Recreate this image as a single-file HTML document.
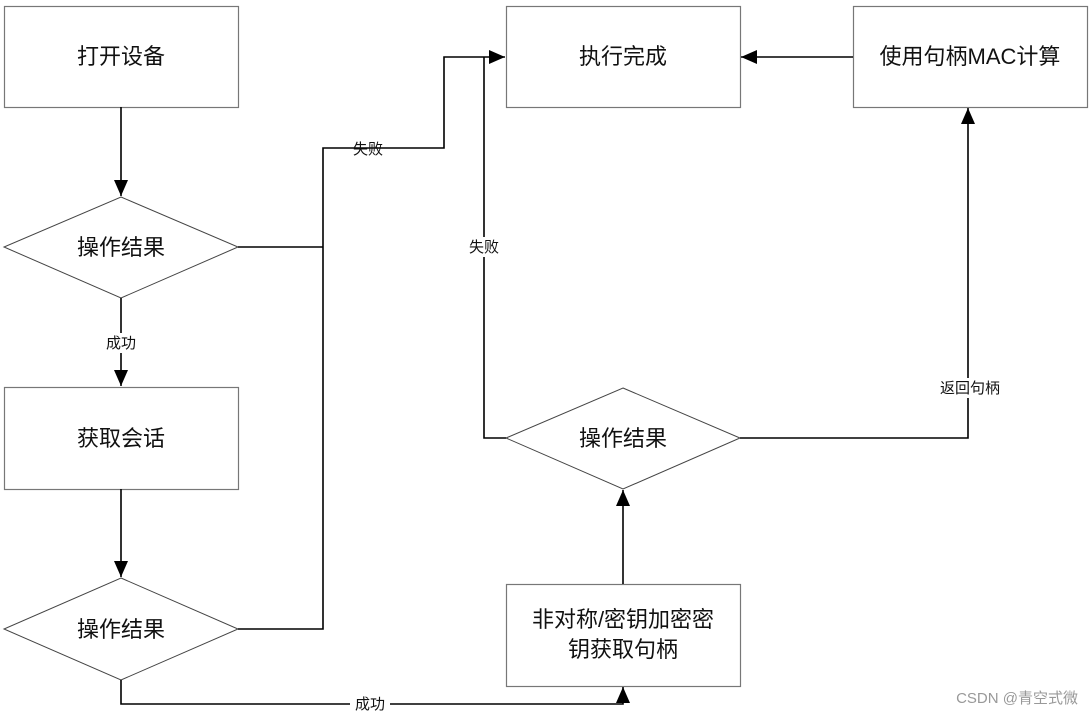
<!DOCTYPE html>
<html><head><meta charset="utf-8"><style>
body{margin:0;background:#fff;}
svg{display:block;font-family:"Liberation Sans","Noto Sans CJK SC",sans-serif;}
</style></head><body>
<svg width="1092" height="717" viewBox="0 0 1092 717">
<defs><marker id="a" markerWidth="16" markerHeight="14" refX="16" refY="7" orient="auto" markerUnits="userSpaceOnUse"><path d="M0,0L16,7L0,14z" fill="#000"/></marker></defs>
<g fill="#fff" stroke="#777" stroke-width="1.2">
<rect x="4.5" y="6.5" width="234" height="101"/>
<rect x="4.5" y="387.5" width="234" height="102"/>
<rect x="506.5" y="6.5" width="234" height="101"/>
<rect x="853.5" y="6.5" width="234" height="101"/>
<rect x="506.5" y="584.5" width="234" height="102"/>
</g>
<g fill="#fff" stroke="#444" stroke-width="1">
<polygon points="121,197 238,247 121,298 4,247"/>
<polygon points="121,578 238,629 121,680 4,629"/>
<polygon points="623,388 740,438 623,489 506,438"/>
</g>
<g fill="none" stroke="#000" stroke-width="1.6">
<path d="M121,107V196" marker-end="url(#a)"/>
<path d="M121,298V386" marker-end="url(#a)"/>
<path d="M121,489V577" marker-end="url(#a)"/>
<path d="M238,247H323M238,629H323V148H444V57H505" marker-end="url(#a)"/>
<path d="M506,438H484V57"/>
<path d="M853,57H741" marker-end="url(#a)"/>
<path d="M740,438H968V108" marker-end="url(#a)"/>
<path d="M623,584V490" marker-end="url(#a)"/>
<path d="M121,680V704H623V687" marker-end="url(#a)"/>
</g>
<g font-size="22" text-anchor="middle" fill="#111">
<text x="121" y="64">打开设备</text>
<text x="121" y="255">操作结果</text>
<text x="121" y="446">获取会话</text>
<text x="121" y="637">操作结果</text>
<text x="623" y="64">执行完成</text>
<text x="970" y="64">使用句柄MAC计算</text>
<text x="623" y="446">操作结果</text>
<text x="623" y="627">非对称/密钥加密密</text>
<text x="623" y="657">钥获取句柄</text>
</g>
<g font-size="15" text-anchor="middle" fill="#111">
<rect x="100" y="333" width="42" height="20" fill="#fff"/>
<text x="121" y="348">成功</text>
<text x="368" y="154">失败</text>
<rect x="464" y="237" width="40" height="20" fill="#fff"/>
<text x="484" y="252">失败</text>
<rect x="938" y="378" width="64" height="20" fill="#fff"/>
<text x="970" y="393">返回句柄</text>
<rect x="350" y="694" width="40" height="20" fill="#fff"/>
<text x="370" y="709">成功</text>
</g>
<text x="1078" y="703" font-size="15" text-anchor="end" fill="#999">CSDN @青空式微</text>
</svg>
</body></html>
